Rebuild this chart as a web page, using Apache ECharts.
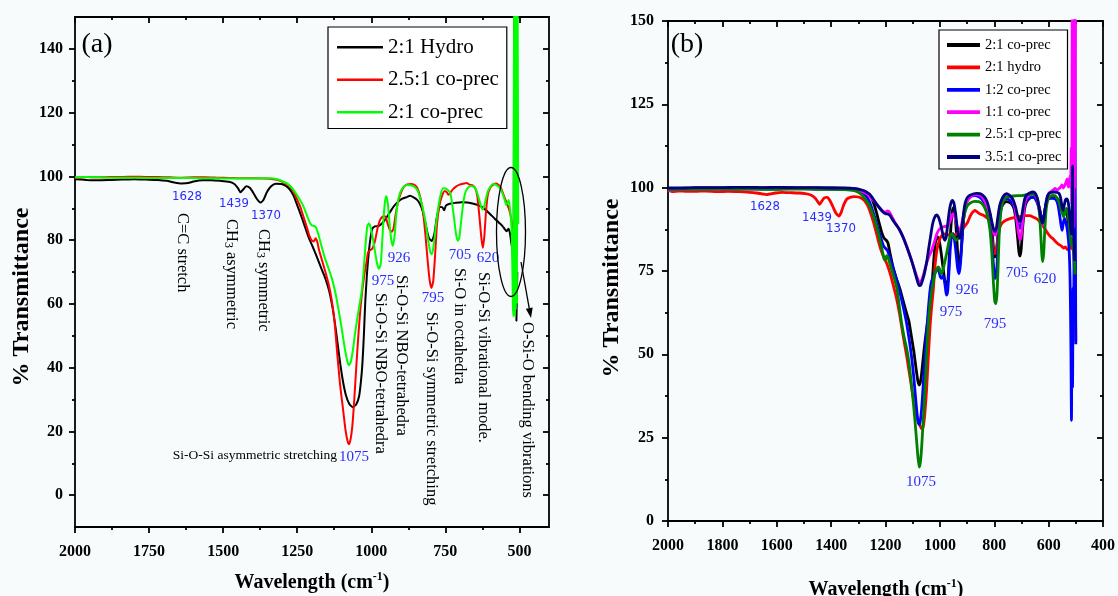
<!DOCTYPE html>
<html>
<head>
<meta charset="utf-8">
<script src="https://cdn.jsdelivr.net/npm/echarts@6/dist/echarts.min.js"></script>
<style>
  html, body { margin: 0; padding: 0; background: #ffffff; }
  #chart { width: 1118px; height: 596px; }
</style>
</head>
<body>
<div id="chart"></div>
<script>
// ---------- FTIR spectra, panel (a): [wavenumber cm-1, % transmittance] ----------
const aHydro21 = [[2000,99.1],[1960,98.9],[1920,98.8],[1880,98.9],[1840,99.0],[1800,99.1],[1760,99.0],[1720,98.9],[1690,98.6],[1665,98.1],[1640,97.8],[1618,97.9],[1600,98.4],[1570,98.8],[1540,98.8],[1510,98.6],[1480,98.3],[1462,97.6],[1450,96.3],[1441,95.0],[1433,95.8],[1422,96.9],[1410,96.4],[1398,94.8],[1386,92.9],[1374,91.8],[1364,92.6],[1352,95.1],[1338,96.9],[1322,97.7],[1303,97.6],[1288,97.0],[1274,95.8],[1262,93.9],[1250,91.0],[1238,88.0],[1226,84.8],[1212,81.0],[1198,78.0],[1183,74.6],[1168,71.0],[1155,68.0],[1142,64.0],[1130,58.5],[1119,51.5],[1108,43.5],[1097,36.5],[1086,31.5],[1074,28.6],[1062,27.6],[1050,28.6],[1041,31.0],[1035,35.5],[1030,41.0],[1025,50.0],[1020,61.0],[1014,70.0],[1008,76.5],[1002,81.0],[996,83.6],[988,84.3],[976,84.4],[964,85.2],[952,86.6],[938,88.6],[924,90.6],[910,92.0],[895,93.0],[880,93.5],[869,93.9],[857,93.4],[846,92.7],[836,91.4],[826,89.0],[816,84.8],[806,80.8],[796,79.7],[787,82.0],[778,87.5],[768,90.4],[760,90.3],[754,89.4],[748,90.8],[735,91.4],[715,91.7],[695,91.9],[675,91.8],[655,91.4],[635,90.8],[618,89.8],[600,88.3],[584,86.8],[568,85.4],[557,84.4],[549,83.4],[543,82.8],[537,83.6],[532,82.2],[527,79.0],[523,76.5],[520,70.0],[517,160],[515,126],[513,160],[510,54.6],[507,70.0]];

const aCoprec25 = [[2000,99.6],[1960,99.8],[1920,99.7],[1880,99.8],[1840,99.8],[1800,99.9],[1760,99.8],[1720,99.8],[1680,99.7],[1640,99.6],[1600,99.7],[1560,99.7],[1520,99.6],[1480,99.5],[1440,99.4],[1400,99.4],[1360,99.3],[1330,99.1],[1310,98.7],[1292,97.9],[1276,96.8],[1262,95.2],[1250,92.6],[1240,90.6],[1229,87.4],[1218,84.2],[1209,81.4],[1201,79.9],[1194,79.6],[1188,80.6],[1182,79.4],[1176,76.8],[1166,73.6],[1156,70.4],[1145,66.6],[1134,61.5],[1124,54.5],[1114,43.5],[1105,34.5],[1096,27.5],[1087,20.5],[1080,17.0],[1075,16.0],[1070,17.4],[1064,21.5],[1058,29.0],[1051,39.5],[1044,49.5],[1037,58.0],[1030,64.5],[1022,70.0],[1016,73.0],[1011,76.2],[1004,76.8],[996,77.4],[988,79.5],[978,84.0],[969,86.6],[958,87.6],[951,87.2],[945,85.2],[938,83.4],[931,82.6],[925,83.6],[918,87.8],[910,91.7],[900,94.8],[890,96.7],[879,97.5],[865,97.6],[852,97.2],[842,95.8],[834,93.2],[826,89.4],[818,82.5],[810,74.0],[803,67.5],[797,65.0],[791,67.0],[785,74.5],[778,85.0],[770,90.8],[762,93.6],[752,95.4],[745,95.0],[739,94.2],[733,94.9],[724,96.0],[714,96.8],[702,97.4],[690,97.7],[678,97.9],[668,97.4],[658,97.2],[649,96.3],[642,93.8],[635,87.5],[628,80.5],[623,77.6],[618,81.5],[613,88.5],[607,94.0],[598,96.5],[588,97.4],[578,97.8],[570,97.3],[562,96.4],[555,94.6],[548,92.9],[542,91.4],[536,90.0],[531,88.3],[526,85.5],[522,79.0],[519,64.0]];

const aCoprec21 = [[2000,99.7],[1960,99.8],[1920,99.7],[1880,99.6],[1840,99.6],[1800,99.6],[1760,99.5],[1720,99.5],[1680,99.5],[1640,99.5],[1600,99.5],[1560,99.4],[1520,99.4],[1480,99.3],[1440,99.3],[1400,99.3],[1370,99.4],[1342,99.4],[1318,99.1],[1298,98.4],[1280,97.5],[1266,96.2],[1254,94.6],[1242,92.8],[1230,90.8],[1218,88.0],[1208,85.6],[1200,84.6],[1193,84.5],[1186,83.9],[1178,81.6],[1168,78.2],[1158,74.8],[1146,71.6],[1133,68.0],[1121,63.5],[1111,58.5],[1102,53.6],[1094,48.8],[1087,44.8],[1080,41.8],[1075,40.8],[1069,41.8],[1062,45.5],[1055,50.5],[1047,55.5],[1040,59.5],[1033,63.5],[1026,70.0],[1019,79.0],[1013,84.5],[1008,85.2],[1002,84.0],[995,80.8],[987,76.2],[980,72.5],[974,71.0],[968,72.5],[963,79.5],[958,87.5],[953,92.5],[949,93.8],[944,91.5],[939,86.0],[933,80.5],[927,78.2],[921,81.5],[916,87.5],[910,92.2],[902,95.0],[892,96.6],[880,97.3],[866,97.2],[852,96.6],[842,95.2],[834,92.8],[826,90.0],[817,85.8],[808,80.0],[800,76.0],[795,75.6],[789,78.5],[782,84.5],[775,89.5],[767,93.8],[758,96.3],[749,96.2],[740,95.6],[733,94.6],[727,91.5],[720,86.5],[714,82.0],[708,79.8],[703,80.6],[697,85.5],[690,91.2],[683,94.8],[673,96.5],[662,97.0],[652,96.6],[643,95.0],[635,92.5],[628,90.2],[623,89.6],[617,91.2],[611,93.8],[605,95.6],[597,96.9],[589,97.6],[580,97.4],[571,96.8],[563,96.0],[556,94.4],[549,92.4],[544,91.0],[540,91.8],[536,92.6],[532,90.0],[528,86.5],[525,80.0],[522,60.0],[520,56.0],[518,160],[516,56.0],[514,160],[512,58.0],[510,160],[508,60.0],[506,160],[504,85.0]];

// ---------- FTIR spectra, panel (b) ----------
const bCoprec21 = [[2000,99.7],[1950,99.8],[1900,99.9],[1850,99.9],[1800,99.9],[1750,99.9],[1700,100.0],[1650,99.9],[1600,99.9],[1550,100.0],[1500,99.9],[1450,99.9],[1400,99.9],[1350,99.8],[1310,99.6],[1285,99.1],[1268,98.5],[1255,97.4],[1244,95.4],[1234,92.8],[1224,89.6],[1214,86.6],[1205,84.8],[1198,84.3],[1191,83.4],[1183,80.2],[1173,76.4],[1160,72.8],[1147,69.6],[1135,66.0],[1124,62.8],[1114,60.0],[1105,55.5],[1096,51.0],[1088,46.0],[1081,42.0],[1076,40.8],[1070,42.4],[1063,47.5],[1056,53.0],[1049,57.5],[1042,61.5],[1036,65.0],[1030,69.2],[1024,76.5],[1018,82.5],[1012,85.2],[1006,85.0],[1000,83.0],[993,79.0],[986,74.5],[980,71.2],[975,70.2],[970,72.5],[965,80.0],[960,87.5],[955,92.5],[950,94.0],[945,92.5],[940,87.5],[935,81.0],[930,76.4],[925,77.8],[920,83.0],[914,89.5],[907,94.2],[898,96.5],[885,97.5],[870,97.9],[857,97.9],[845,97.0],[834,95.5],[824,93.8],[816,92.0],[809,88.0],[803,82.0],[798,79.2],[793,80.0],[787,85.5],[781,90.8],[774,94.0],[765,95.3],[755,95.8],[745,95.6],[735,95.0],[727,93.6],[720,90.0],[714,85.0],[709,80.6],[705,79.5],[701,81.5],[695,88.5],[688,93.8],[681,95.7],[670,96.8],[658,97.2],[648,96.8],[640,95.5],[633,93.6],[627,91.2],[622,90.2],[617,91.5],[610,94.8],[603,96.5],[593,97.0],[582,97.2],[572,97.0],[563,96.2],[556,94.6],[549,93.2],[542,92.8],[536,92.5],[531,91.5],[527,89.0],[523,86.0],[519,84.5],[515,82.5],[511,83.5],[507,80.0],[503,70.0]];

const bHydro21 = [[2000,99.3],[1985,98.8],[1960,99.0],[1930,98.9],[1900,98.9],[1860,99.0],[1820,98.8],[1780,98.9],[1740,98.8],[1700,98.6],[1675,98.4],[1652,98.1],[1638,97.9],[1624,98.1],[1605,98.4],[1580,98.6],[1550,98.5],[1520,98.4],[1495,98.2],[1475,97.8],[1460,97.0],[1450,95.9],[1442,95.0],[1434,96.0],[1424,97.0],[1414,97.1],[1404,96.1],[1393,94.2],[1382,92.3],[1372,91.5],[1363,92.6],[1353,95.0],[1342,96.6],[1330,97.1],[1315,97.3],[1300,97.2],[1288,96.8],[1276,96.0],[1265,94.5],[1254,92.2],[1244,89.6],[1233,86.2],[1221,82.4],[1208,79.4],[1195,77.2],[1182,74.0],[1171,70.6],[1160,67.0],[1148,62.0],[1135,55.5],[1122,49.4],[1110,43.2],[1099,37.5],[1089,33.0],[1080,30.0],[1072,28.4],[1066,27.6],[1060,28.8],[1055,32.5],[1049,39.2],[1043,48.5],[1036,58.5],[1030,64.5],[1024,69.5],[1018,76.5],[1011,81.2],[1003,84.0],[994,85.5],[984,86.1],[972,86.0],[961,85.4],[951,85.0],[942,86.0],[932,86.7],[920,87.4],[908,88.5],[898,89.6],[889,91.4],[880,92.6],[872,93.2],[864,92.8],[852,92.1],[840,91.7],[828,91.0],[818,90.2],[812,88.0],[806,83.0],[801,80.5],[796,80.2],[790,82.5],[784,86.5],[777,88.6],[768,89.6],[755,90.3],[742,90.7],[728,91.0],[715,91.2],[700,91.4],[685,91.6],[670,91.6],[655,91.1],[643,90.6],[632,89.7],[622,88.6],[613,87.6],[603,86.3],[593,85.3],[583,84.6],[573,83.7],[563,83.0],[553,82.5],[545,81.9],[538,82.2],[531,81.4],[525,81.8],[519,82.4],[513,81.6],[508,82.5],[504,81.5],[502,70.0],[500,54.0]];

const bCoprec12 = [[2000,99.5],[1950,99.6],[1900,99.6],[1850,99.7],[1800,99.7],[1750,99.7],[1700,99.7],[1650,99.6],[1600,99.6],[1550,99.7],[1500,99.7],[1450,99.6],[1400,99.6],[1350,99.5],[1310,99.3],[1288,98.8],[1272,97.6],[1258,95.6],[1246,92.8],[1235,89.8],[1225,87.0],[1215,84.4],[1207,82.5],[1200,81.8],[1193,81.2],[1185,79.4],[1175,76.6],[1164,73.6],[1152,70.2],[1141,66.5],[1131,62.8],[1122,59.2],[1113,54.5],[1104,49.2],[1097,44.0],[1091,38.5],[1085,33.0],[1080,29.6],[1076,29.0],[1072,30.0],[1067,33.8],[1061,41.0],[1055,49.0],[1049,56.5],[1043,63.0],[1037,68.6],[1031,71.8],[1024,73.2],[1017,74.6],[1010,75.6],[1004,75.0],[998,73.2],[993,72.8],[988,73.6],[983,72.0],[978,68.8],[975,67.8],[971,69.2],[966,75.5],[961,82.5],[956,86.0],[951,86.2],[946,84.2],[940,80.0],[935,76.0],[930,74.2],[925,76.5],[920,82.5],[914,89.5],[908,94.0],[900,96.2],[888,97.3],[872,97.6],[857,97.3],[845,96.5],[834,95.0],[824,92.5],[815,88.5],[808,82.5],[802,76.0],[797,72.7],[792,74.0],[787,81.0],[782,88.5],[775,94.0],[766,96.0],[755,96.7],[744,96.3],[733,95.2],[724,93.6],[716,90.8],[710,88.6],[705,87.8],[700,89.0],[694,92.6],[687,95.3],[680,96.3],[668,97.0],[656,97.1],[646,96.2],[638,94.5],[631,92.2],[625,90.4],[621,90.2],[616,92.0],[610,95.0],[603,96.5],[594,96.8],[584,96.8],[574,96.5],[566,95.0],[559,91.5],[554,88.6],[550,87.2],[546,89.5],[541,90.8],[535,89.0],[530,86.5],[525,82.0],[521,72.0],[518,52.0],[516,30.2],[514,55.0],[512,40.0],[510,70.0],[508,60.0],[506,95.0],[504,160],[502,100],[500,53.0]];

const bCoprec11 = [[2000,99.2],[1950,99.4],[1900,99.5],[1850,99.5],[1800,99.6],[1750,99.6],[1700,99.6],[1650,99.7],[1600,99.7],[1550,99.7],[1500,99.7],[1450,99.6],[1400,99.6],[1350,99.5],[1310,99.3],[1288,98.9],[1270,98.2],[1254,97.0],[1240,95.8],[1228,94.6],[1217,93.6],[1207,92.8],[1199,92.7],[1192,93.0],[1185,92.6],[1177,91.4],[1167,89.8],[1156,88.4],[1145,86.9],[1134,85.0],[1122,82.4],[1110,79.6],[1098,76.6],[1087,73.8],[1078,71.9],[1072,71.6],[1065,72.6],[1058,74.6],[1050,77.0],[1041,79.2],[1031,81.0],[1020,83.8],[1010,86.4],[1000,87.7],[990,88.2],[980,88.4],[970,88.7],[962,90.0],[956,91.6],[951,92.2],[946,91.5],[940,89.4],[934,87.6],[928,87.3],[922,88.4],[915,91.0],[908,94.0],[900,95.8],[890,97.0],[878,97.7],[865,97.9],[853,97.7],[843,97.0],[833,95.6],[823,93.6],[814,91.2],[806,88.2],[800,86.2],[796,85.8],[791,87.0],[785,91.0],[778,94.6],[770,96.5],[760,97.5],[750,97.7],[740,97.4],[731,96.2],[723,93.6],[716,89.6],[710,86.0],[705,84.3],[700,86.0],[694,91.0],[688,95.0],[682,96.8],[672,97.7],[660,98.0],[650,97.8],[642,96.4],[635,93.6],[628,90.4],[622,88.8],[617,90.0],[611,94.0],[605,97.0],[598,98.4],[590,98.9],[582,99.4],[576,99.8],[570,99.3],[563,99.6],[556,100.2],[551,100.8],[546,99.9],[541,100.6],[536,101.6],[532,102.6],[528,100.2],[524,101.6],[521,103.5],[519,100.0],[517,112.0],[515,95.0],[513,160],[511,90.0],[509,160],[507,88.0],[505,160],[503,100.0],[501,160]];

const bCoprec25 = [[2000,99.4],[1950,99.5],[1900,99.5],[1850,99.5],[1800,99.6],[1750,99.5],[1700,99.6],[1650,99.5],[1600,99.5],[1550,99.6],[1500,99.6],[1450,99.5],[1400,99.5],[1350,99.4],[1320,99.2],[1302,98.7],[1290,98.0],[1278,96.9],[1266,95.6],[1255,93.9],[1245,91.6],[1235,88.9],[1226,86.1],[1218,83.4],[1211,80.8],[1205,78.6],[1200,78.3],[1196,79.6],[1191,79.2],[1185,77.5],[1177,75.3],[1167,72.6],[1158,69.8],[1150,65.0],[1141,59.5],[1131,55.0],[1121,51.2],[1112,46.5],[1104,40.5],[1097,35.0],[1091,29.5],[1086,24.5],[1081,19.5],[1076,16.2],[1071,18.0],[1066,23.5],[1061,30.5],[1055,39.0],[1049,49.0],[1043,58.5],[1037,64.5],[1030,69.0],[1024,72.0],[1018,74.2],[1012,75.5],[1006,76.2],[1000,75.4],[995,74.2],[990,74.8],[985,76.6],[979,78.8],[972,81.6],[965,84.4],[958,86.2],[952,85.8],[946,84.8],[940,84.2],[934,84.6],[928,85.2],[922,86.4],[916,89.0],[909,92.2],[900,94.4],[888,95.4],[872,95.9],[857,95.8],[845,95.2],[834,93.8],[825,91.6],[816,87.5],[809,80.5],[803,71.5],[798,65.8],[794,65.2],[790,68.0],[786,76.0],[782,85.5],[776,92.5],[768,95.8],[758,97.0],[745,97.3],[730,97.5],[715,97.6],[700,97.6],[685,97.8],[670,98.0],[657,98.1],[647,97.6],[640,96.4],[634,92.6],[629,86.0],[625,80.0],[622,77.8],[618,80.5],[614,87.5],[609,93.5],[603,96.3],[594,97.4],[584,97.7],[576,97.6],[569,96.8],[562,95.8],[556,94.0],[550,92.4],[545,91.2],[540,92.6],[535,93.8],[530,92.8],[526,90.5],[522,87.0],[518,83.5],[514,82.5],[510,84.5],[506,80.0],[503,74.0]];

const bCoprec35 = [[2000,99.9],[1950,99.9],[1900,100.0],[1850,100.0],[1800,100.0],[1750,100.1],[1700,100.1],[1650,100.0],[1600,100.1],[1550,100.0],[1500,100.0],[1450,100.0],[1400,99.9],[1350,99.9],[1310,99.7],[1288,99.3],[1272,98.8],[1258,98.0],[1245,96.6],[1232,95.0],[1219,93.6],[1208,92.6],[1200,92.2],[1192,92.1],[1184,91.7],[1174,90.4],[1162,89.0],[1150,87.6],[1138,85.6],[1126,83.2],[1114,80.5],[1102,77.6],[1091,74.4],[1082,71.8],[1076,70.6],[1070,70.8],[1063,72.4],[1056,74.6],[1048,78.0],[1041,81.8],[1034,85.5],[1027,89.0],[1020,91.0],[1013,91.8],[1006,91.3],[999,89.6],[993,87.5],[987,85.2],[982,84.2],[977,85.0],[972,88.5],[966,92.6],[960,95.2],[954,96.2],[949,95.6],[943,92.8],[937,88.6],[931,85.6],[926,84.8],[921,86.6],[915,90.8],[909,94.6],[902,96.6],[892,97.6],[878,98.1],[865,98.3],[853,98.2],[842,97.7],[832,96.8],[823,95.0],[815,92.2],[808,89.4],[802,87.4],[797,86.8],[792,88.0],[787,91.0],[780,94.6],[772,96.6],[763,97.8],[754,98.2],[745,97.8],[736,97.0],[728,95.8],[721,94.0],[715,91.8],[709,90.2],[705,89.8],[700,91.0],[694,94.0],[688,96.6],[681,97.8],[670,98.4],[658,98.7],[648,98.2],[641,96.6],[634,93.6],[628,90.8],[623,89.4],[618,90.6],[612,94.2],[606,97.0],[599,98.3],[590,98.6],[580,98.7],[570,98.6],[562,98.3],[556,97.0],[551,94.4],[547,93.2],[543,94.6],[538,96.4],[533,96.6],[528,95.6],[524,93.0],[520,89.0],[517,86.0],[514,90.0],[512,106.5],[510,88.0],[507,84.0],[504,78.0]];

// ---------- tick values ----------
const aXMajor = [2000, 1750, 1500, 1250, 1000, 750, 500];
const aXMinor = [1875, 1625, 1375, 1125, 875, 625];
const aYMajor = [0, 20, 40, 60, 80, 100, 120, 140];
const aYMinor = [10, 30, 50, 70, 90, 110, 130];

const SERIF = "'Liberation Serif', 'DejaVu Serif', serif";
const NARROW = "'Liberation Sans Narrow', 'DejaVu Sans Condensed', 'Liberation Sans', sans-serif";
const PEAK_BLUE = '#2b2bff';
const AXIS_LINE = { color: '#000', width: 1.8 };

const chart = echarts.init(document.getElementById('chart'), null, { renderer: 'canvas' });

function tickLabel(extra) {
  return Object.assign({ color: '#000', fontFamily: SERIF, fontWeight: 'bold', fontSize: 16,
                         formatter: v => String(v) }, extra);
}

// panel (a) axes use explicit tick positions (major + minor overlays)
function aX(position, values, len, inside, withLabels, showLine) {
  return {
    gridIndex: 0, type: 'value', position, inverse: true, min: 400, max: 2000,
    axisLine: { show: showLine, onZero: false, lineStyle: AXIS_LINE },
    axisTick: { show: true, inside, length: len, customValues: values, lineStyle: AXIS_LINE },
    axisLabel: withLabels ? tickLabel({ margin: 17, customValues: values }) : { show: false },
    splitLine: { show: false }
  };
}
function aY(position, values, len, inside, withLabels, showLine) {
  return {
    gridIndex: 0, type: 'value', position, min: -10, max: 150,
    axisLine: { show: showLine, onZero: false, lineStyle: AXIS_LINE },
    axisTick: { show: true, inside, length: len, customValues: values, lineStyle: AXIS_LINE },
    axisLabel: withLabels ? tickLabel({ margin: 12, customValues: values }) : { show: false },
    splitLine: { show: false }
  };
}
// panel (b) axes: regular intervals with minor ticks
function bX(position, inside, withLabels) {
  return {
    gridIndex: 1, type: 'value', position, inverse: true, min: 400, max: 2000, interval: 200,
    axisLine: { show: true, onZero: false, lineStyle: AXIS_LINE },
    axisTick: { show: true, inside, length: 6, lineStyle: AXIS_LINE },
    minorTick: { show: true, splitNumber: 2, length: 3, lineStyle: AXIS_LINE },
    axisLabel: withLabels ? tickLabel({ margin: 17 }) : { show: false },
    splitLine: { show: false }
  };
}
function bY(position, inside, withLabels) {
  return {
    gridIndex: 1, type: 'value', position, min: 0, max: 150, interval: 25,
    axisLine: { show: true, onZero: false, lineStyle: AXIS_LINE },
    axisTick: { show: true, inside, length: 6, lineStyle: AXIS_LINE },
    minorTick: { show: true, splitNumber: 2, length: 3, lineStyle: AXIS_LINE },
    axisLabel: withLabels ? tickLabel({ margin: 14 }) : { show: false },
    splitLine: { show: false }
  };
}

function spectrum(name, data, color, width, xi, yi) {
  return {
    type: 'line', name, data, xAxisIndex: xi, yAxisIndex: yi,
    symbol: 'none', showSymbol: false, smooth: 0.2, clip: true,
    lineStyle: { color, width }, itemStyle: { color },
    emphasis: { disabled: true }, animation: false
  };
}

function text(x, y, str, size, family, color, extra) {
  return Object.assign({
    type: 'text', x, y, z: 100, silent: true,
    style: { text: str, fill: color, fontSize: size, fontFamily: family,
             textAlign: 'center', textVerticalAlign: 'middle' }
  }, extra || {});
}
// labels reading top to bottom, anchored at their top end
const VSIZE = 16.5;
function vtext(x, yTop, str, rich) {
  return {
    type: 'text', x, y: yTop, rotation: -Math.PI / 2, z: 100, silent: true,
    style: { text: str, rich, fill: '#000', fontSize: VSIZE, fontFamily: SERIF,
             textAlign: 'left', textVerticalAlign: 'middle' }
  };
}
// rotated axis title reading bottom to top
function ytitle(x, y) {
  return {
    type: 'text', x, y, rotation: Math.PI / 2, z: 100, silent: true,
    style: { text: '% Transmittance', fill: '#000', fontSize: 24, fontWeight: 'bold', fontFamily: SERIF,
             textAlign: 'center', textVerticalAlign: 'middle' }
  };
}
const subRich = {
  n: { fontSize: VSIZE, fontFamily: SERIF, fill: '#000' },
  d: { fontSize: 12, fontFamily: SERIF, fill: '#000', verticalAlign: 'bottom', padding: [5, 0, 0, 0] }
};
const titleRich = {
  t: { fontSize: 20, fontWeight: 'bold', fontFamily: SERIF, fill: '#000', lineHeight: 24 },
  s: { fontSize: 12, fontWeight: 'bold', fontFamily: SERIF, fill: '#000', verticalAlign: 'top', lineHeight: 14 }
};

const option = {
  backgroundColor: '#f7fbfc',
  animation: false,
  grid: [
    { left: 75, top: 17, width: 474, height: 510, containLabel: false },
    { left: 668, top: 21, width: 435, height: 500, containLabel: false }
  ],
  xAxis: [
    aX('bottom', aXMajor, 6, false, true, true),
    aX('bottom', aXMinor, 3, false, false, false),
    aX('top', aXMajor, 6, true, false, true),
    aX('top', aXMinor, 3, true, false, false),
    bX('bottom', false, true),
    bX('top', true, false)
  ],
  yAxis: [
    aY('left', aYMajor, 6, false, true, true),
    aY('left', aYMinor, 3, false, false, false),
    aY('right', aYMajor, 6, true, false, true),
    aY('right', aYMinor, 3, true, false, false),
    bY('left', false, true),
    bY('right', true, false)
  ],
  legend: [
    {
      data: ['2:1 Hydro', '2.5:1 co-prec', '2:1 co-prec'],
      orient: 'vertical', left: 328, top: 27, padding: [8, 8, 4, 9], itemGap: 8,
      icon: 'rect', itemWidth: 46, itemHeight: 2.6, selectedMode: false,
      backgroundColor: '#ffffff', borderColor: '#000', borderWidth: 1.2, borderRadius: 0,
      textStyle: { fontFamily: SERIF, fontSize: 21, color: '#000', lineHeight: 24.5 }
    },
    {
      data: ['2:1 co-prec (b)', '2:1 hydro', '1:2 co-prec', '1:1 co-prec', '2.5:1 cp-prec', '3.5:1 co-prec'],
      formatter: n => n.replace(' (b)', ''),
      orient: 'vertical', left: 939, top: 30, padding: [6, 6, 3, 8], itemGap: 4.4,
      icon: 'rect', itemWidth: 33, itemHeight: 3.8, selectedMode: false,
      backgroundColor: '#ffffff', borderColor: '#000', borderWidth: 1.2, borderRadius: 0,
      textStyle: { fontFamily: SERIF, fontSize: 14.5, color: '#000', lineHeight: 18 }
    }
  ],
  series: [
    spectrum('2:1 Hydro', aHydro21, '#000000', 2, 0, 0),
    spectrum('2.5:1 co-prec', aCoprec25, '#ff0000', 2, 0, 0),
    spectrum('2:1 co-prec', aCoprec21, '#00ff00', 2, 0, 0),
    spectrum('2:1 co-prec (b)', bCoprec21, '#000000', 2.8, 4, 4),
    spectrum('2:1 hydro', bHydro21, '#ff0000', 2.8, 4, 4),
    spectrum('1:2 co-prec', bCoprec12, '#0000ff', 2.8, 4, 4),
    spectrum('1:1 co-prec', bCoprec11, '#ff00ff', 2.8, 4, 4),
    spectrum('2.5:1 cp-prec', bCoprec25, '#008000', 2.8, 4, 4),
    spectrum('3.5:1 co-prec', bCoprec35, '#000080', 2.8, 4, 4)
  ],
  graphic: [
    // panel letters
    text(97, 45, '(a)', 28, SERIF, '#000'),
    text(687, 45, '(b)', 28, SERIF, '#000'),
    // axis titles
    ytitle(22, 297),
    ytitle(612, 288),
    { type: 'text', x: 312, y: 583, z: 100, silent: true,
      style: { text: '{t|Wavelength (cm}{s|-1}{t|)}', rich: titleRich, fill: '#000', textAlign: 'center', textVerticalAlign: 'middle' } },
    { type: 'text', x: 886, y: 590, z: 100, silent: true,
      style: { text: '{t|Wavelength (cm}{s|-1}{t|)}', rich: titleRich, fill: '#000', textAlign: 'center', textVerticalAlign: 'middle' } },

    // panel (a) band positions
    text(187, 197, '1628', 13, NARROW, PEAK_BLUE),
    text(234, 204, '1439', 13, NARROW, PEAK_BLUE),
    text(266, 216, '1370', 13, NARROW, PEAK_BLUE),
    text(383, 281, '975', 15, SERIF, PEAK_BLUE),
    text(399, 258, '926', 15, SERIF, PEAK_BLUE),
    text(433, 298, '795', 15, SERIF, PEAK_BLUE),
    text(460, 255, '705', 15, SERIF, PEAK_BLUE),
    text(488, 258, '620', 15, SERIF, PEAK_BLUE),
    text(354, 457, '1075', 15, SERIF, PEAK_BLUE),
    // panel (a) band assignments
    { type: 'text', x: 337, y: 455, z: 100, silent: true,
      style: { text: 'Si-O-Si asymmetric stretching', fill: '#000', fontSize: 13.5, fontFamily: SERIF, textAlign: 'right', textVerticalAlign: 'middle' } },
    vtext(182, 213, 'C=C stretch'),
    vtext(231, 219, '{n|CH}{d|3}{n| asymmetric}', subRich),
    vtext(263, 229, '{n|CH}{d|3}{n| symmetric}', subRich),
    vtext(380, 293, 'Si-O-Si NBO-tetrahedra'),
    vtext(401, 275, 'Si-O-Si NBO-tetrahedra'),
    vtext(431, 312, 'Si-O-Si symmetric stretching'),
    vtext(459, 268, 'Si-O in octahedra'),
    vtext(483, 272, 'Si-O-Si vibrational mode.'),
    vtext(527, 322, 'O-Si-O bending vibrations'),
    // circled region and pointer
    { type: 'ellipse', z: 100, silent: true, shape: { cx: 511, cy: 232, rx: 14.5, ry: 64.5 },
      style: { fill: 'none', stroke: '#000', lineWidth: 1.3 } },
    { type: 'line', z: 100, silent: true, shape: { x1: 521, y1: 262, x2: 529.2, y2: 308.2 },
      style: { stroke: '#000', lineWidth: 1.3 } },
    { type: 'polygon', z: 100, silent: true, shape: { points: [[525.8, 308.8], [532.7, 307.6], [531, 318]] },
      style: { fill: '#000' } },

    // panel (b) band positions
    text(765, 207, '1628', 13, NARROW, PEAK_BLUE),
    text(817, 218, '1439', 13, NARROW, PEAK_BLUE),
    text(841, 229, '1370', 13, NARROW, PEAK_BLUE),
    text(967, 290, '926', 15, SERIF, PEAK_BLUE),
    text(1017, 273, '705', 15, SERIF, PEAK_BLUE),
    text(1045, 279, '620', 15, SERIF, PEAK_BLUE),
    text(951, 312, '975', 15, SERIF, PEAK_BLUE),
    text(995, 324, '795', 15, SERIF, PEAK_BLUE),
    text(921, 482, '1075', 15, SERIF, PEAK_BLUE)
  ]
};

chart.setOption(option);
</script>
</body>
</html>
